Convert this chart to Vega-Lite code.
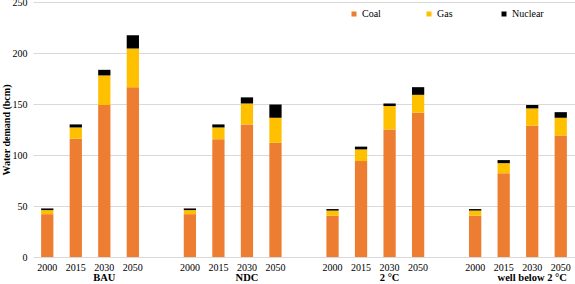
{
  "$schema": "https://vega.github.io/schema/vega-lite/v6.json",
  "width": 542,
  "height": 255,
  "autosize": {"type": "none"},
  "padding": {"left": 33, "top": 2, "right": 0, "bottom": 27},
  "config": {"font": "Liberation Serif", "view": {"stroke": null}},
  "data": {
    "values": [
      {"slot": "BAU|2000", "fuel": "Coal", "value": 42},
      {"slot": "BAU|2000", "fuel": "Gas", "value": 4},
      {"slot": "BAU|2000", "fuel": "Nuclear", "value": 1.6},
      {"slot": "BAU|2015", "fuel": "Coal", "value": 116},
      {"slot": "BAU|2015", "fuel": "Gas", "value": 11},
      {"slot": "BAU|2015", "fuel": "Nuclear", "value": 3},
      {"slot": "BAU|2030", "fuel": "Coal", "value": 149},
      {"slot": "BAU|2030", "fuel": "Gas", "value": 29},
      {"slot": "BAU|2030", "fuel": "Nuclear", "value": 5.5},
      {"slot": "BAU|2050", "fuel": "Coal", "value": 166.5},
      {"slot": "BAU|2050", "fuel": "Gas", "value": 38},
      {"slot": "BAU|2050", "fuel": "Nuclear", "value": 13},
      {"slot": "NDC|2000", "fuel": "Coal", "value": 42},
      {"slot": "NDC|2000", "fuel": "Gas", "value": 4},
      {"slot": "NDC|2000", "fuel": "Nuclear", "value": 1.6},
      {"slot": "NDC|2015", "fuel": "Coal", "value": 115.5},
      {"slot": "NDC|2015", "fuel": "Gas", "value": 11.5},
      {"slot": "NDC|2015", "fuel": "Nuclear", "value": 3},
      {"slot": "NDC|2030", "fuel": "Coal", "value": 130},
      {"slot": "NDC|2030", "fuel": "Gas", "value": 20.5},
      {"slot": "NDC|2030", "fuel": "Nuclear", "value": 6},
      {"slot": "NDC|2050", "fuel": "Coal", "value": 112},
      {"slot": "NDC|2050", "fuel": "Gas", "value": 24.5},
      {"slot": "NDC|2050", "fuel": "Nuclear", "value": 13},
      {"slot": "2 °C|2000", "fuel": "Coal", "value": 40.5},
      {"slot": "2 °C|2000", "fuel": "Gas", "value": 5},
      {"slot": "2 °C|2000", "fuel": "Nuclear", "value": 1.5},
      {"slot": "2 °C|2015", "fuel": "Coal", "value": 94},
      {"slot": "2 °C|2015", "fuel": "Gas", "value": 11.5},
      {"slot": "2 °C|2015", "fuel": "Nuclear", "value": 2.7},
      {"slot": "2 °C|2030", "fuel": "Coal", "value": 125},
      {"slot": "2 °C|2030", "fuel": "Gas", "value": 23},
      {"slot": "2 °C|2030", "fuel": "Nuclear", "value": 2.5},
      {"slot": "2 °C|2050", "fuel": "Coal", "value": 141.5},
      {"slot": "2 °C|2050", "fuel": "Gas", "value": 17.5},
      {"slot": "2 °C|2050", "fuel": "Nuclear", "value": 7.5},
      {"slot": "well below 2  °C|2000", "fuel": "Coal", "value": 40.5},
      {"slot": "well below 2  °C|2000", "fuel": "Gas", "value": 5},
      {"slot": "well below 2  °C|2000", "fuel": "Nuclear", "value": 1.5},
      {"slot": "well below 2  °C|2015", "fuel": "Coal", "value": 82},
      {"slot": "well below 2  °C|2015", "fuel": "Gas", "value": 10},
      {"slot": "well below 2  °C|2015", "fuel": "Nuclear", "value": 3},
      {"slot": "well below 2  °C|2030", "fuel": "Coal", "value": 128.7},
      {"slot": "well below 2  °C|2030", "fuel": "Gas", "value": 17},
      {"slot": "well below 2  °C|2030", "fuel": "Nuclear", "value": 3.3},
      {"slot": "well below 2  °C|2050", "fuel": "Coal", "value": 119},
      {"slot": "well below 2  °C|2050", "fuel": "Gas", "value": 17.5},
      {"slot": "well below 2  °C|2050", "fuel": "Nuclear", "value": 5.5}
    ]
  },
  "layer": [
    {
      "mark": {"type": "bar"},
      "encoding": {
        "x": {
          "field": "slot",
          "type": "nominal",
          "scale": {
            "domain": ["BAU|2000", "BAU|2015", "BAU|2030", "BAU|2050", "g1|",
                       "NDC|2000", "NDC|2015", "NDC|2030", "NDC|2050", "g2|",
                       "2 °C|2000", "2 °C|2015", "2 °C|2030", "2 °C|2050", "g3|",
                       "well below 2  °C|2000", "well below 2  °C|2015", "well below 2  °C|2030", "well below 2  °C|2050"],
            "paddingInner": 0.57,
            "paddingOuter": 0.285
          },
          "axis": {
            "labelExpr": "split(datum.value, '|')[1]",
            "labelAngle": 0,
            "ticks": false,
            "domain": false,
            "labelPadding": 5,
            "labelFontSize": 10,
            "labelColor": "#000000",
            "title": null
          }
        },
        "y": {
          "field": "value",
          "type": "quantitative",
          "stack": "zero",
          "scale": {"domain": [0, 250]},
          "axis": {
            "values": [0, 50, 100, 150, 200, 250],
            "title": "Water demand (bcm)",
            "titleFontWeight": "bold",
            "titleFontSize": 10,
            "titleColor": "#000000",
            "titlePadding": 1,
            "grid": true,
            "gridColor": "#d9d9d9",
            "domain": false,
            "ticks": false,
            "labelPadding": 6,
            "labelFontSize": 10,
            "labelColor": "#000000"
          }
        },
        "order": {"field": "fuel", "sort": "ascending"},
        "color": {
          "field": "fuel",
          "type": "nominal",
          "scale": {"domain": ["Coal", "Gas", "Nuclear"], "range": ["#ED7D31", "#FFC000", "#000000"]},
          "legend": {
            "orient": "none",
            "legendX": 316,
            "legendY": 7,
            "direction": "horizontal",
            "title": null,
            "symbolType": "square",
            "symbolSize": 25,
            "symbolStrokeWidth": 0,
            "labelFontSize": 10,
            "labelColor": "#000000",
            "labelOffset": 3,
            "gridAlign": "all",
            "columnPadding": 30
          }
        }
      }
    },
    {
      "mark": {"type": "point", "opacity": 0},
      "encoding": {
        "x": {
          "field": "slot",
          "type": "nominal",
          "axis": {
            "orient": "bottom",
            "values": ["BAU|2030", "NDC|2030", "2 °C|2030", "well below 2  °C|2030"],
            "labelExpr": "split(datum.value, '|')[0]",
            "bandPosition": -0.66,
            "labelAngle": 0,
            "ticks": false,
            "domain": false,
            "grid": false,
            "labelPadding": 15,
            "labelFontSize": 10.5,
            "labelFontWeight": "bold",
            "labelColor": "#000000",
            "title": null
          }
        }
      }
    }
  ],
  "resolve": {"axis": {"x": "independent"}}
}
